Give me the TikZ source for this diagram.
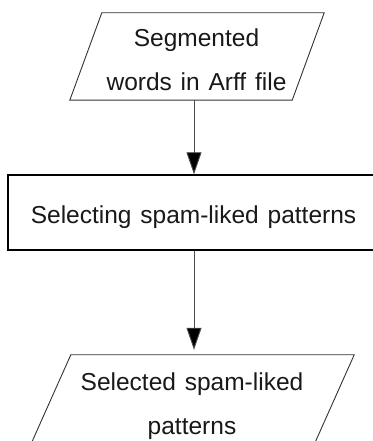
\documentclass[tikz,border=0pt]{standalone}
\usepackage{fontspec}
\setmainfont{Liberation Sans}
\usetikzlibrary{arrows.meta,calc}
\begin{document}
\begin{tikzpicture}[x=1pt,y=1pt,
  ioframe/.style={draw=none, minimum width=#1, minimum height=87pt, inner sep=0pt},
  boxtext/.style={font={\fontsize{24.5pt}{44pt}\selectfont\spaceskip=0.36em\relax}, align=center, inner sep=0pt, text=black!90},
  ioline/.style={draw=black!80, line width=0.9pt, line join=miter},
  procbox/.style={draw=black, line width=1.4pt, minimum width=372pt, minimum height=75pt, inner sep=0pt},
  flow/.style={draw=black!70, line width=0.9pt, -{Triangle[length=22pt,width=15pt,fill=black]}}]
  \useasboundingbox[fill=white] (0,0) rectangle (372,441);

  % vertical axis shared by the connectors
  \coordinate (axis) at (194,0);

  % input: segmented words
  \node[ioframe=222pt] (in) at (197,384.5) {};
  \draw[ioline] ($(in.south west)+(-16,0)$) -- ($(in.north west)+(16,0)$)
    -- ($(in.north east)+(16,0)$) -- ($(in.south east)+(-16,0)$) -- cycle;
  \node[boxtext] (in-text) at (196.5,381) {Segmented\\words in Arff file};

  % process step
  \node[procbox] (proc) at (194,228.5) {};
  \node[boxtext, anchor=base] (proc-text) at (193.5,217.7) {Selecting spam-liked patterns};

  % output: selected patterns
  \node[ioframe=283pt] (out) at (193,42.5) {};
  \draw[ioline] ($(out.south west)+(-19.5,0)$) -- ($(out.north west)+(19.5,0)$)
    -- ($(out.north east)+(19.5,0)$) -- ($(out.south east)+(-19.5,0)$) -- cycle;
  \node[boxtext] (out-text) at (192,35) {Selected spam-liked\\patterns};

  % connectors
  \draw[flow] (in.south -| axis) -- (proc.north -| axis);
  \draw[flow, shorten >=5pt] (proc.south -| axis) -- (out.north -| axis);
\end{tikzpicture}
\end{document}
